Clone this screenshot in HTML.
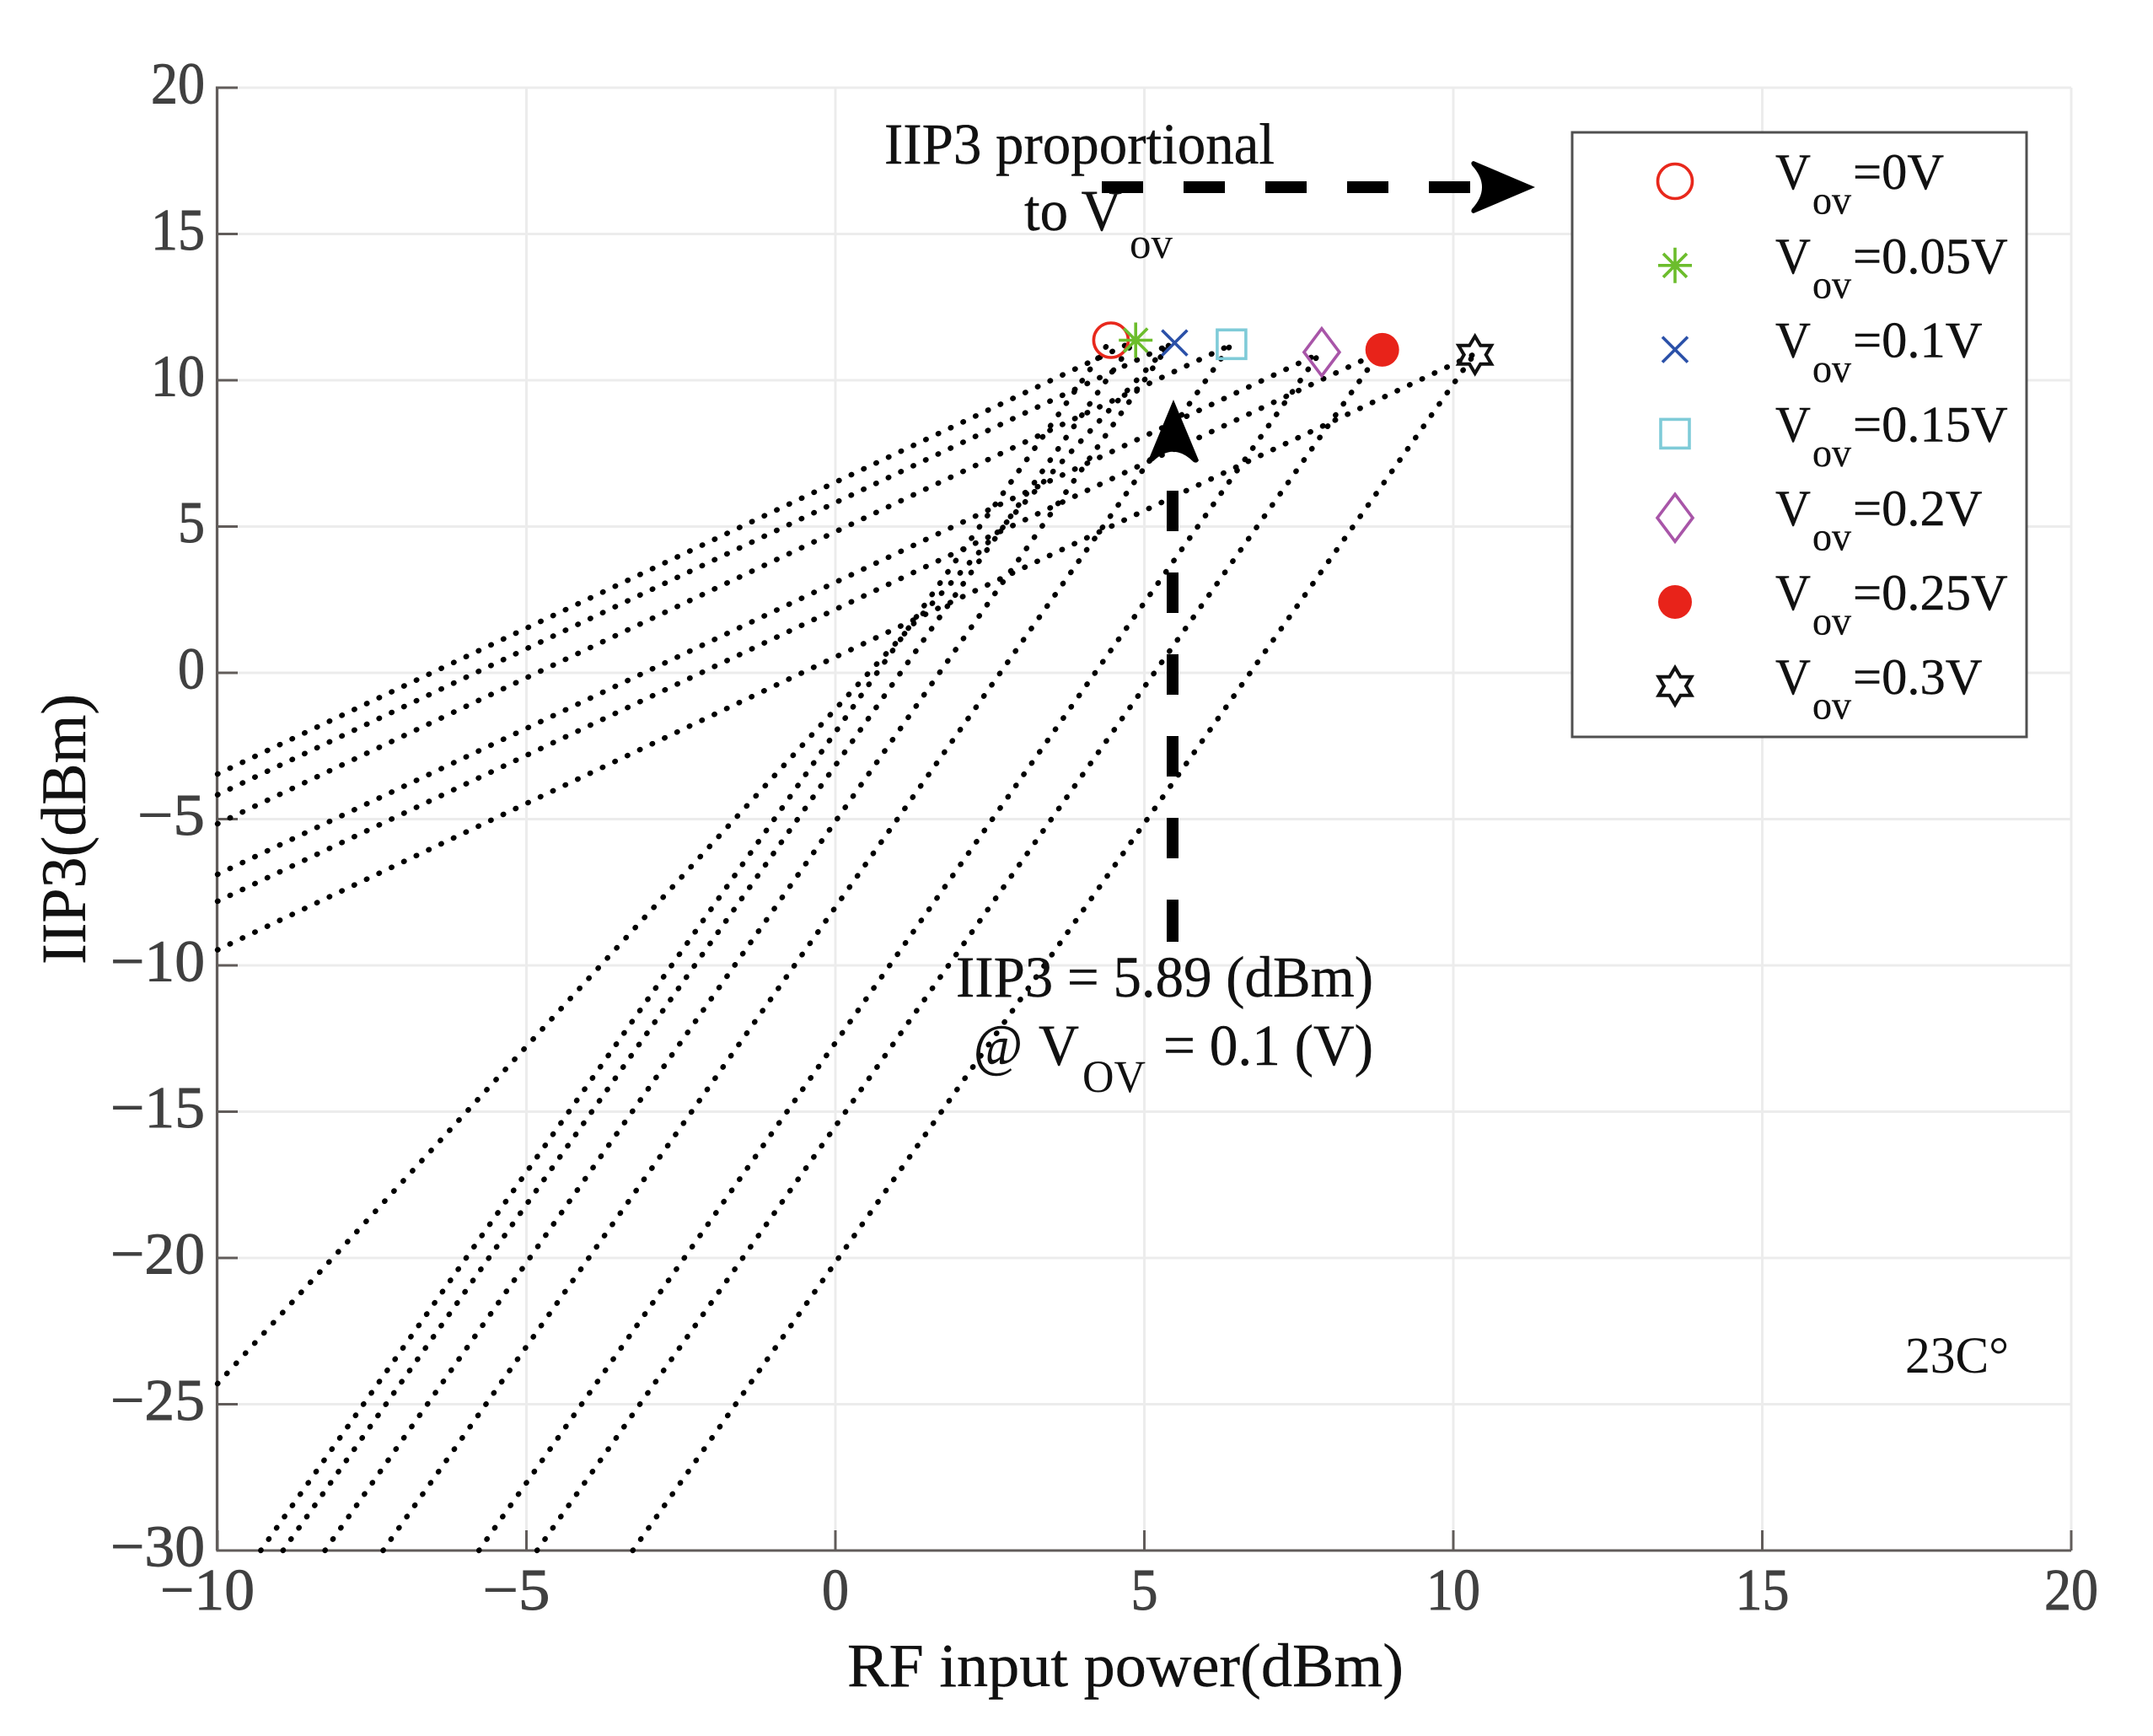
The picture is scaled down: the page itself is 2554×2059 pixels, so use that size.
<!DOCTYPE html>
<html lang="en">
<head>
<meta charset="utf-8">
<title>IIP3 vs RF input power</title>
<style>
html,body{margin:0;padding:0;background:#fff;width:2554px;height:2059px;overflow:hidden}
svg{display:block}
text{font-family:"Liberation Serif",serif}
.tick{font-size:70px;fill:#404040;stroke:#404040;stroke-width:.9px}
.leg{font-size:60.5px;fill:#111;stroke:#111;stroke-width:.4px}
.sub{font-size:48px;fill:#111;stroke:#111;stroke-width:.3px}
.ann{font-size:69px;fill:#111;stroke:#111;stroke-width:.4px}
</style>
</head>
<body>
<svg id="chart" xmlns="http://www.w3.org/2000/svg" width="2554" height="2059" viewBox="0 0 2554 2059">
  <rect x="0" y="0" width="2554" height="2059" fill="#fff"/>
  <g id="grid"></g>
  <g id="axes"></g>
  <g id="series"></g>
  <g id="markers"></g>
  <g id="legend">
    <rect x="1865" y="157" width="539" height="717" fill="#fff" stroke="#505050" stroke-width="3"/>
  </g>

  <text x="1005" y="2000" font-size="73" fill="#111" stroke="#111" stroke-width=".4" textLength="660" lengthAdjust="spacingAndGlyphs">RF input power(dBm)</text>
  <text transform="translate(101,1144) rotate(-90)" font-size="75" fill="#111" stroke="#111" stroke-width=".4" textLength="321" lengthAdjust="spacingAndGlyphs">IIP3(dBm)</text>

  <text class="ann" x="1049" y="194" textLength="463" lengthAdjust="spacingAndGlyphs">IIP3 proportional</text>
  <text class="ann" x="1215" y="273" textLength="116" lengthAdjust="spacingAndGlyphs">to V</text>
  <text x="1340" y="306" font-size="52" fill="#111" textLength="51" lengthAdjust="spacingAndGlyphs">ov</text>

  <g fill="#000">
    <rect x="1307" y="215" width="49" height="14"/>
    <rect x="1404" y="215" width="49" height="14"/>
    <rect x="1501" y="215" width="49" height="14"/>
    <rect x="1598" y="215" width="49" height="14"/>
    <rect x="1695" y="215" width="49" height="14"/>
    <path d="M1821 222 L1748 253 Q1744 252 1746 248 Q1770 222 1746 196 Q1744 192 1748 191 Z"/>
  </g>
  <g fill="#000">
    <rect x="1384" y="582" width="14" height="48"/>
    <rect x="1384" y="679" width="14" height="48"/>
    <rect x="1384" y="776" width="14" height="48"/>
    <rect x="1384" y="873" width="14" height="48"/>
    <rect x="1384" y="970" width="14" height="48"/>
    <rect x="1384" y="1067" width="14" height="50"/>
    <path d="M1392 474 L1422 546 Q1420 550 1416 548 Q1392 524 1368 547 Q1364 549 1363 544 Z"/>
  </g>

  <text class="ann" x="1134" y="1182" textLength="495" lengthAdjust="spacingAndGlyphs">IIP3 = 5.89 (dBm)</text>
  <text class="ann" x="1155" y="1263" textLength="58" lengthAdjust="spacingAndGlyphs">@</text>
  <text class="ann" x="1232" y="1263" textLength="48" lengthAdjust="spacingAndGlyphs">V</text>
  <text x="1284" y="1295" font-size="54" fill="#111" textLength="75" lengthAdjust="spacingAndGlyphs">OV</text>
  <text class="ann" x="1380" y="1263" textLength="249" lengthAdjust="spacingAndGlyphs">= 0.1 (V)</text>
  <text x="2260" y="1628" font-size="61" fill="#111" textLength="123" lengthAdjust="spacingAndGlyphs">23C°</text>
</svg>

<script>
// Axis ticks
const xTicks = [-10, -5, 0, 5, 10, 15, 20];
const yTicks = [20, 15, 10, 5, 0, -5, -10, -15, -20, -25, -30];

// Series: bias labels and the IIP3 intercept marker for each bias
const legendLabels = ['=0V', '=0.05V', '=0.1V', '=0.15V', '=0.2V', '=0.25V', '=0.3V'];
const markerKinds = ['circle', 'asterisk', 'cross', 'square', 'diamond', 'disc', 'hexagram'];
const markerColors = ['#e8281c', '#6cbd2c', '#2a50a8', '#7fcbd8', '#a855a8', '#e8231a', '#111111'];
const markerX = [4.46, 4.86, 5.49, 6.41, 7.87, 8.85, 10.35];
const markerY = [11.37, 11.37, 11.28, 11.23, 10.96, 11.04, 10.87];

// Third-order (steep) lines: power where each crosses y = -30, and where it ends
const steepStartX = [-9.30, -8.94, -8.26, -7.32, -5.77, -4.83, -3.28];
const steepEndX = [4.44, 4.83, 5.40, 6.40, 7.83, 8.81, 10.34];
const steepEndY = [11.33, 11.33, 11.21, 11.21, 10.91, 10.96, 10.89];

// First-order (shallow) lines: value at x = -10 and where each ends
const shallowStartY = [-3.46, -4.17, -5.16, -6.89, -7.81, -9.47];
const shallowEndX = [4.83, 5.40, 6.40, 7.83, 8.81, 10.34];
const shallowEndY = [11.33, 11.21, 11.21, 10.91, 10.96, 10.89];

// Additional dotted trace entering at the left axis
const extraX = [-10, 5.40];
const extraY = [-24.3, 11.21];

const xPlotMin = -10, xPlotMax = 20, yPlotMin = -30, yPlotMax = 20;
const xOf = v => 991 + 73.3 * v;
const yOf = v => 798 - 34.7 * v;
const NS = 'http://www.w3.org/2000/svg';
const gridG = document.getElementById('grid');
const axesG = document.getElementById('axes');
const seriesG = document.getElementById('series');
const markersG = document.getElementById('markers');
const legendG = document.getElementById('legend');
const axisColor = '#615c5a';

function mk(tag, attrs, parent) {
  const el = document.createElementNS(NS, tag);
  for (const k in attrs) el.setAttribute(k, attrs[k]);
  parent.appendChild(el);
  return el;
}
function tickWidth(t) {
  return String(Math.abs(t)).length * 32 + (t < 0 ? 48 : 0);
}

// grid + ticks + labels
xTicks.forEach(t => {
  const grid = mk('line', {x1: xOf(t), x2: xOf(t), y1: yOf(yPlotMax), y2: yOf(yPlotMin), stroke: '#ececec', 'stroke-width': 3}, gridG);
  
  
  const tick = mk('line', {x1: xOf(t), x2: xOf(t), y1: yOf(yPlotMin), y2: yOf(yPlotMin) - 24, stroke: axisColor, 'stroke-width': 3}, axesG);
  
  
  const label = mk('text', {x: xOf(t) - (t < 0 ? 12 : 0), y: 1909, 'text-anchor': 'middle', class: 'tick', textLength: tickWidth(t), lengthAdjust: 'spacingAndGlyphs'}, axesG);
  
  
  label.textContent = (t < 0 ? '\u2212' : '') + Math.abs(t);
});
yTicks.forEach(t => {
  const grid = mk('line', {x1: xOf(xPlotMin), x2: xOf(xPlotMax), y1: yOf(t), y2: yOf(t), stroke: '#ececec', 'stroke-width': 3}, gridG);
  
  
  const tick = mk('line', {x1: xOf(xPlotMin), x2: xOf(xPlotMin) + 24, y1: yOf(t), y2: yOf(t), stroke: axisColor, 'stroke-width': 3}, axesG);
  
  
  const label = mk('text', {x: 243, y: yOf(t) + 18.5, 'text-anchor': 'end', class: 'tick', textLength: tickWidth(t), lengthAdjust: 'spacingAndGlyphs'}, axesG);
  
  
  label.textContent = (t < 0 ? '\u2212' : '') + Math.abs(t);
});
const xAxis = mk('line', {x1: xOf(xPlotMin) - 1.5, x2: xOf(xPlotMax), y1: yOf(yPlotMin), y2: yOf(yPlotMin), stroke: axisColor, 'stroke-width': 3}, axesG);


const yAxis = mk('line', {x1: xOf(xPlotMin) - 0.5, x2: xOf(xPlotMin) - 0.5, y1: yOf(yPlotMax) - 1.5, y2: yOf(yPlotMin), stroke: axisColor, 'stroke-width': 3.2}, axesG);



// dotted lines
const dotted = {fill: 'none', stroke: '#000', 'stroke-width': 6.4, 'stroke-linecap': 'round', 'stroke-dasharray': '0.6 15.7'};
function pointsPath(xs, ys) {
  return xs.map((x, i) => (i ? 'L' : 'M') + xOf(x).toFixed(1) + ' ' + yOf(ys[i]).toFixed(1)).join(' ');
}
steepStartX.forEach((x0, i) => {
  const p = mk('path', Object.assign({d: pointsPath([x0, steepEndX[i]], [yPlotMin, steepEndY[i]])}, dotted), seriesG);
  
  
});
shallowStartY.forEach((y0, i) => {
  const p = mk('path', Object.assign({d: pointsPath([xPlotMin, shallowEndX[i]], [y0, shallowEndY[i]])}, dotted), seriesG);
  
  
});
const extra = mk('path', Object.assign({d: pointsPath(extraX, extraY)}, dotted), seriesG);



// marker drawing
function drawMarker(kind, color, cx, cy, parent) {
  const g = mk('g', {transform: 'translate(' + cx.toFixed(1) + ' ' + cy.toFixed(1) + ')', fill: 'none', stroke: color, 'stroke-width': 3.6}, parent);
  if (kind === 'circle') {
    mk('circle', {r: 20.5}, g);
  } else if (kind === 'asterisk') {
    mk('path', {d: 'M-20 0H20M0 -21V21M-14 -14L14 14M-14 14L14 -14'}, g);
  } else if (kind === 'cross') {
    mk('path', {d: 'M-15 -15L15 15M-15 15L15 -15'}, g);
  } else if (kind === 'square') {
    mk('rect', {x: -17, y: -17, width: 34, height: 34}, g);
  } else if (kind === 'diamond') {
    mk('path', {d: 'M0 -28L21 0L0 28L-21 0Z'}, g);
  } else if (kind === 'disc') {
    mk('circle', {r: 20, fill: color, stroke: 'none'}, g);
  } else {
    mk('path', {d: 'M0 -22L6.5 -11L19.5 -11L13 0L19.5 11L6.5 11L0 22L-6.5 11L-19.5 11L-13 0L-19.5 -11L-6.5 -11Z', 'stroke-width': 4}, g);
  }
  return g;
}
markerX.forEach((x, i) => {
  const m = drawMarker(markerKinds[i], markerColors[i], xOf(x), yOf(markerY[i]), markersG);
  
  
});

// legend rows
legendLabels.forEach((label, i) => {
  const rowY = 215 + i * 99.8;
  const row = mk('g', {}, legendG);
  
  
  const m = drawMarker(markerKinds[i], markerColors[i], 1987, rowY, row);
  
  
  const v = mk('text', {x: 2106, y: rowY + 9, class: 'leg', textLength: 42, lengthAdjust: 'spacingAndGlyphs'}, row);
  
  
  v.textContent = 'V';
  const s = mk('text', {x: 2150, y: rowY + 38.5, class: 'sub', textLength: 46, lengthAdjust: 'spacingAndGlyphs'}, row);
  
  
  s.textContent = 'ov';
  const t = mk('text', {x: 2198, y: rowY + 9, class: 'leg'}, row);
  
  
  t.textContent = label;
});
</script>
</body>
</html>
